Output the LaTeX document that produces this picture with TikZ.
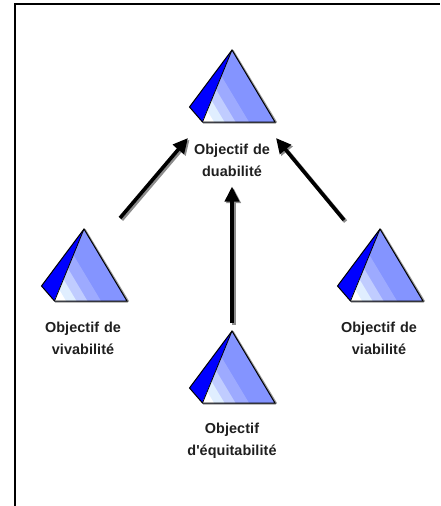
\documentclass[tikz,border=0pt]{standalone}
\usepackage{fontspec}
\setmainfont[LetterSpace=0.5]{Liberation Sans}
\usetikzlibrary{arrows.meta}
\definecolor{mainblue}{HTML}{8494FF}
\definecolor{bandA}{HTML}{9DAAFF}
\definecolor{bandB}{HTML}{C0CCFF}
\definecolor{bandC}{HTML}{E0EEFF}
\definecolor{darkblue}{HTML}{0000FF}
\tikzset{
  x=1pt,y=-1pt,
  goalbox/.style={inner sep=0pt,outer sep=0pt},
  goallabel/.style={font=\fontsize{14.4}{22}\selectfont\bfseries,align=center,text=black!88,inner sep=0pt,outer sep=0pt,text width=110pt},
  linkshadow/.style={line width=4pt,draw=black!45,fill=black!45,-{Triangle[length=15pt,width=14pt]},transform canvas={shift={(1.6pt,-1.6pt)}}},
  link/.style={line width=3.6pt,draw=black,-{Triangle[length=15pt,width=14pt]}},
  pyramid/.pic={
    \fill[black!40] (43.5,73.5) -- (-29,73.5) -- (-29,72) -- (43,72) -- (0,0) -- (1.5,0) -- (45,72) -- cycle;
    \fill[darkblue] (0,0) -- (-42.5,57) -- (-29.5,72) -- cycle;
    \begin{scope}
      \clip (0,0) -- (43,72) -- (-29.5,72) -- cycle;
      \fill[mainblue] (-30,-2) rectangle (44,73);
      \fill[bandA] (17,72) -- (-43.4,-28.7) -- (-60,-28.7) -- (-60,72) -- cycle;
      \fill[bandB] (3.5,72) -- (-56.9,-28.7) -- (-70,-28.7) -- (-70,72) -- cycle;
      \fill[bandC] (-7.5,72) -- (-67.9,-28.7) -- (-80,-28.7) -- (-80,72) -- cycle;
      \fill[white] (-18,72) -- (-78.4,-28.7) -- (-90,-28.7) -- (-90,72) -- cycle;
    \end{scope}
    \draw[black,line width=1pt,line join=miter] (0,0) -- (43,72) -- (-29.5,72) -- (-42.5,57) -- cycle;
    \draw[black,line width=.8pt] (0,0) -- (-29.5,72);
  }
}
\begin{document}
\begin{tikzpicture}
\useasboundingbox (0,0) rectangle (440,506);
\fill[white] (0,0) rectangle (440,506);
\coordinate (frameA) at (15,506);
\coordinate (frameB) at (15,4.2);
\coordinate (frameC) at (440,4.2);
\draw[line width=2.2pt,line join=miter] (frameA) -- (frameB) -- (frameC);
\pic at (232,50) {pyramid};
\pic at (84,229) {pyramid};
\pic at (232,331) {pyramid};
\pic at (380,229) {pyramid};
\node[goalbox,minimum width=88pt,minimum height=88pt] (goalT) at (232,94) {};
\node[goalbox,minimum width=72pt,minimum height=87pt] (goalL) at (84,261.5) {};
\node[goalbox,minimum width=72pt,minimum height=87pt] (goalR) at (380,263.5) {};
\node[goalbox,minimum width=88pt,minimum height=80pt] (goalM) at (232,363) {};
\node[goallabel,minimum height=52pt] (lblT) at (232,160.5) {Objectif de\\duabilité};
\node[goallabel] (lblL) at (83,338.5) {Objectif de\\vivabilité};
\node[goallabel] (lblM) at (232,441) {Objectif\\d\textquotesingle équitabilité};
\node[goallabel] (lblR) at (379,338.5) {Objectif de\\viabilité};
\draw[linkshadow] (goalL.north east) -- (goalT.south west);
\draw[linkshadow] (goalM.north) -- (lblT.south);
\draw[linkshadow] (goalR.north west) -- (goalT.south east);
\draw[link] (goalL.north east) -- (goalT.south west);
\draw[link] (goalM.north) -- (lblT.south);
\draw[link] (goalR.north west) -- (goalT.south east);
\end{tikzpicture}
\end{document}
